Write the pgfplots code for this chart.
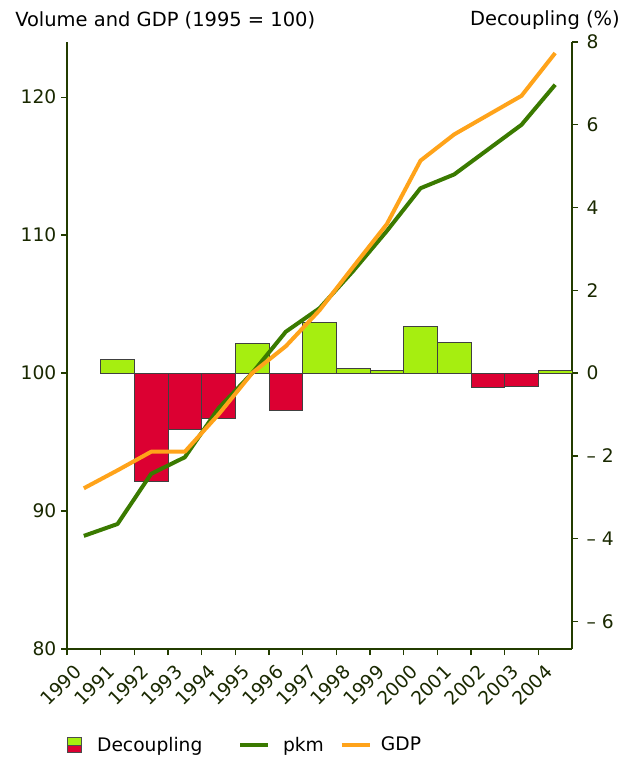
\documentclass[border=0pt]{standalone}
\usepackage{fontspec}
\setmainfont{DejaVu Sans}
\usepackage{pgfplots}
\pgfplotsset{compat=1.18}
\definecolor{limec}{RGB}{166,238,16}
\definecolor{crim}{RGB}{220,0,50}
\definecolor{pkmc}{RGB}{58,122,0}
\definecolor{gdpc}{RGB}{255,163,26}
\definecolor{axc}{RGB}{35,60,0}
\definecolor{txc}{RGB}{25,40,0}
\newcommand{\fs}{\fontsize{14}{16}\selectfont}
\newcommand{\ft}{\fontsize{14.6}{17}\selectfont}
\begin{document}
\begin{tikzpicture}
\useasboundingbox (-50.25pt,-88.5pt) rectangle (415.5pt,486.75pt);
\pgfplotsset{
  every axis/.append style={
    scale only axis, width=378.75pt, height=455.25pt,
    at={(0pt,0pt)}, anchor=south west,
    xmin=1990, xmax=2005,
    axis line style={-, axc, line width=1.2pt},
    tick style={axc, line width=1pt},
    tick align=outside, major tick length=4.5pt,
    tick label style={font=\fs, text=txc},
    /pgf/number format/assume math mode=true,
    /pgf/number format/1000 sep={},
  }
}
% right axis: decoupling bars
\begin{axis}[
  ymin=-6.6667, ymax=8,
  axis x line=none, axis y line*=right,
  ytick={-6,-4,-2,0,2,4,6,8},
  yticklabels={– 6,– 4,– 2,0,2,4,6,8},
  yticklabel style={xshift=3pt},
]
\addplot[ybar, bar width=1, bar shift=0pt, fill=limec, draw=black!75, line width=0.5pt]
  coordinates {(1991.5,0.33) (1995.5,0.72) (1997.5,1.23) (1998.5,0.11) (1999.5,0.065) (2000.5,1.12) (2001.5,0.74) (2004.5,0.06)};
\addplot[ybar, bar width=1, bar shift=0pt, fill=crim, draw=black!75, line width=0.5pt]
  coordinates {(1992.5,-2.61) (1993.5,-1.35) (1994.5,-1.09) (1996.5,-0.89) (2002.5,-0.35) (2003.5,-0.31)};
\end{axis}
% left axis: volume and GDP
\begin{axis}[
  ymin=80, ymax=124,
  axis x line*=bottom, axis y line*=left,
  xtick={1990,...,2004}, ytick={80,90,...,120},
  xticklabel style={rotate=45, anchor=north east, xshift=2pt, yshift=-4pt},
  legend style={draw=none, fill=none, font=\fs, legend columns=3,
    at={(0,-0.158)}, anchor=west, inner sep=0pt},
]
\addlegendimage{legend image code/.code={
  \fill[limec] (0pt,0pt) rectangle (10.5pt,5.6pt);
  \fill[crim] (0pt,-5.6pt) rectangle (10.5pt,0pt);
  \draw[black!70, line width=0.4pt] (0pt,-5.6pt) rectangle (10.5pt,5.6pt);
  \draw[black!70, line width=0.4pt] (0pt,0pt) -- (10.5pt,0pt);}}
\addlegendentry{\rule{9.5pt}{0pt}Decoupling\rule{25pt}{0pt}}
\addplot[pkmc, line width=3pt, line join=round,
  legend image code/.code={\draw[pkmc, line width=3pt] (0pt,0pt) -- (21pt,0pt);}]
  coordinates {(1990.5,88.2) (1991.5,89.06) (1992.5,92.7) (1993.5,93.9) (1994.5,97.45) (1995.5,100.0) (1996.5,103.0) (1997.5,104.7) (1998.5,107.4) (1999.5,110.3) (2000.5,113.4) (2001.5,114.4) (2002.5,116.2) (2003.5,118.0) (2004.5,120.9)};
\addlegendentry{\rule{7.5pt}{0pt}pkm\rule{9.75pt}{0pt}}
\addplot[gdpc, line width=3pt, line join=round,
  legend image code/.code={\draw[gdpc, line width=3pt] (0pt,0pt) -- (21pt,0pt);}]
  coordinates {(1990.5,91.65) (1991.5,92.95) (1992.5,94.3) (1993.5,94.3) (1994.5,97.0) (1995.5,100.0) (1996.5,101.95) (1997.5,104.55) (1998.5,107.7) (1999.5,110.8) (2000.5,115.4) (2001.5,117.3) (2002.5,118.7) (2003.5,120.1) (2004.5,123.2)};
\addlegendentry{\rule{5pt}{0pt}GDP}
\end{axis}
\node[anchor=west, font=\ft, text=black, inner sep=0pt] at (-39pt,471.75pt) {Volume and GDP (1995 = 100)};
\node[anchor=east, font=\ft, text=black, inner sep=0pt] at (414.75pt,471.75pt) {Decoupling (\%)};
\end{tikzpicture}
\end{document}
